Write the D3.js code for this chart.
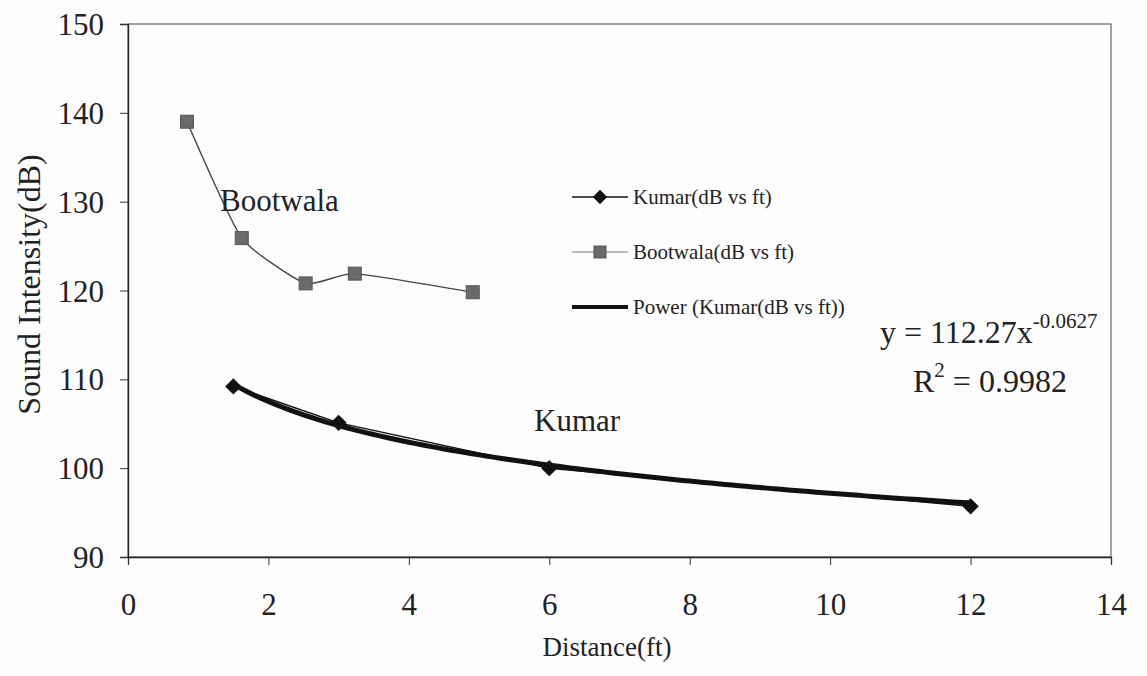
<!DOCTYPE html>
<html>
<head>
<meta charset="utf-8">
<script src="https://cdn.jsdelivr.net/npm/d3@7"></script>
<style>
  body { margin: 0; background: #fdfdfd; }
  svg text { font-family: "Liberation Serif", "Times New Roman", Times, serif !important; }
</style>
</head>
<body>
<script>
// data
const kumarX = [1.5, 3, 6, 12];
const kumarY = [109.2, 105.1, 100, 95.7];
const bootX = [0.84, 1.62, 2.53, 3.23, 4.91];
const bootY = [139, 125.9, 120.8, 121.9, 119.8];
const xTicks = [0, 2, 4, 6, 8, 10, 12, 14];
const yTicks = [90, 100, 110, 120, 130, 140, 150];
const legendNames = ["Kumar(dB vs ft)", "Bootwala(dB vs ft)", "Power (Kumar(dB vs ft))"];
// power trendline as printed on the chart
const fitA = 112.27;
const fitB = -0.0627;
const fitR2 = "0.9982";

const width = 1147;
const height = 676;
const margin = { top: 24, right: 36, bottom: 119, left: 128 };

const svg = d3.select("body").append("svg")
  .attr("width", width)
  .attr("height", height);

const x = d3.scaleLinear().domain([0, 14]).range([margin.left, width - margin.right]);
const y = d3.scaleLinear().domain([90, 150]).range([height - margin.bottom, margin.top]);

// plot frame
svg.append("rect")
  .attr("x", margin.left).attr("y", margin.top)
  .attr("width", x(14) - x(0)).attr("height", y(90) - y(150))
  .attr("fill", "none").attr("stroke", "#444").attr("stroke-width", 1);

const xAxis = svg.append("g")
  .attr("transform", `translate(0,${y(90)})`)
  .call(d3.axisBottom(x).tickValues(xTicks).tickSize(8).tickPadding(28).tickFormat(d3.format("d")));
const yAxis = svg.append("g")
  .attr("transform", `translate(${x(0)},0)`)
  .call(d3.axisLeft(y).tickValues(yTicks).tickSize(8).tickPadding(16).tickFormat(d3.format("d")));

[xAxis, yAxis].forEach((g) => {
  g.select(".domain").attr("stroke", "#222").attr("stroke-width", 1.3);
  g.selectAll(".tick line").attr("stroke", "#333");
  g.selectAll("text").attr("font-size", 31).attr("fill", "#222");
});
yAxis.selectAll("text").attr("dy", "0.34em");

// axis titles
svg.append("text")
  .attr("x", 607).attr("y", 656)
  .attr("text-anchor", "middle").attr("font-size", 27).attr("fill", "#222")
  .text("Distance(ft)");
svg.append("text")
  .attr("transform", `translate(40,${(y(90) + y(150)) / 2 - 6}) rotate(-90)`)
  .attr("text-anchor", "middle").attr("font-size", 32).attr("fill", "#222")
  .text("Sound Intensity(dB)");

const kumar = kumarX.map((d, i) => ({ x: d, y: kumarY[i] }));
const boot = bootX.map((d, i) => ({ x: d, y: bootY[i] }));

// Bootwala smoothed line
svg.append("path")
  .datum(boot)
  .attr("fill", "none").attr("stroke", "#444").attr("stroke-width", 1.4)
  .attr("d", d3.line().x((d) => x(d.x)).y((d) => y(d.y)).curve(d3.curveCardinal.tension(0.5)));

svg.selectAll(".boot")
  .data(boot).join("rect")
  .attr("class", "boot")
  .attr("x", (d) => x(d.x) - 6.5).attr("y", (d) => y(d.y) - 6.5)
  .attr("width", 13).attr("height", 13)
  .attr("fill", "#6a6a6a").attr("stroke", "#555").attr("stroke-width", 1);

// Kumar line
svg.append("path")
  .datum(kumar)
  .attr("fill", "none").attr("stroke", "#111").attr("stroke-width", 1.5)
  .attr("d", d3.line().x((d) => x(d.x)).y((d) => y(d.y)));

// power trendline
const fitXs = d3.range(kumarX[0], kumarX[kumarX.length - 1] + 0.001, 0.1);
svg.append("path")
  .datum(fitXs)
  .attr("fill", "none").attr("stroke", "#111").attr("stroke-width", 5)
  .attr("stroke-linecap", "round")
  .attr("d", d3.line().x((d) => x(d)).y((d) => y(fitA * Math.pow(d, fitB))));

const diamond = d3.symbol().type(d3.symbolDiamond2).size(170);
svg.selectAll(".kumar")
  .data(kumar).join("path")
  .attr("class", "kumar")
  .attr("transform", (d) => `translate(${x(d.x)},${y(d.y)})`)
  .attr("d", diamond)
  .attr("fill", "#111");

// series labels
svg.append("text").attr("x", 220).attr("y", 211)
  .attr("font-size", 31).attr("fill", "#222").text("Bootwala");
svg.append("text").attr("x", 534).attr("y", 431)
  .attr("font-size", 31).attr("fill", "#222").text("Kumar");

// equation
const eq = svg.append("text").attr("x", 880).attr("y", 343)
  .attr("font-size", 32).attr("fill", "#222");
eq.append("tspan").text(`y = ${fitA}x`);
eq.append("tspan").attr("font-size", 21).attr("dy", -15).text(fitB);
const r2 = svg.append("text").attr("x", 913).attr("y", 392)
  .attr("font-size", 32).attr("fill", "#222");
r2.append("tspan").text("R");
r2.append("tspan").attr("font-size", 21).attr("dy", -15).text("2");
r2.append("tspan").attr("dy", 15).text(` = ${fitR2}`);

// legend
const legend = svg.append("g").attr("transform", "translate(572,197)");
const rows = legend.selectAll("g").data(legendNames).join("g")
  .attr("transform", (d, i) => `translate(0,${i * 55})`);
rows.append("line")
  .attr("x1", 0).attr("x2", 56).attr("y1", 0).attr("y2", 0)
  .attr("stroke", (d, i) => (i === 1 ? "#777" : "#111"))
  .attr("stroke-width", (d, i) => (i === 2 ? 4 : i === 1 ? 1.2 : 1.6));
rows.filter((d, i) => i === 0).append("path")
  .attr("transform", "translate(28,0)")
  .attr("d", d3.symbol().type(d3.symbolDiamond2).size(130))
  .attr("fill", "#111");
rows.filter((d, i) => i === 1).append("rect")
  .attr("x", 22).attr("y", -6).attr("width", 12).attr("height", 12)
  .attr("fill", "#6a6a6a").attr("stroke", "#555");
rows.append("text")
  .attr("x", 61).attr("dy", "0.35em")
  .attr("font-size", 21).attr("fill", "#222")
  .text((d) => d);
</script>
</body>
</html>
